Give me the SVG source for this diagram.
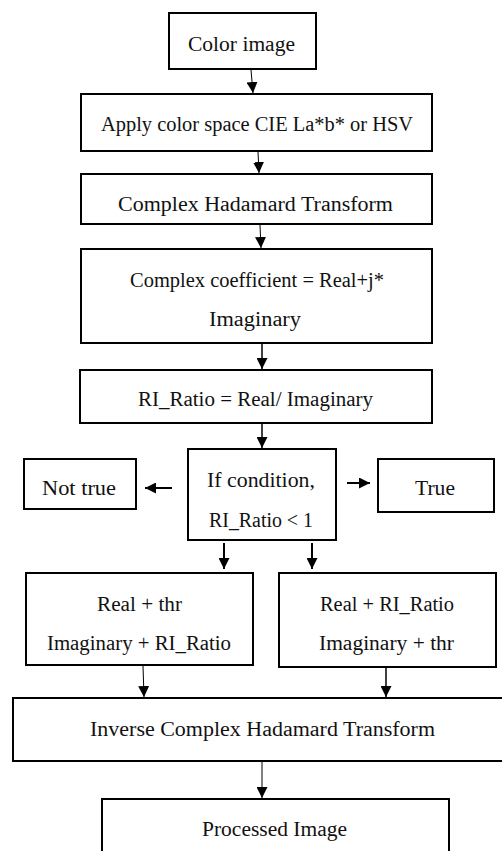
<svg xmlns="http://www.w3.org/2000/svg" width="502" height="851" viewBox="0 0 502 851">
<style>
  .box { fill: #ffffff; stroke: #000000; stroke-width: 2; }
  .lbl { font-family: "Liberation Serif", "Times New Roman", serif; font-size: 20px; fill: #111111; }
  .c { fill: none; stroke: #000000; }
</style>
<defs>
  <marker id="ah" markerUnits="userSpaceOnUse" markerWidth="11" markerHeight="11" refX="11" refY="5.5" orient="auto">
    <path d="M0,0 L11,5.5 L0,11 z" fill="#000000"/>
  </marker>
</defs>
<rect width="502" height="851" fill="#ffffff"/>

<g id="n1">
  <rect class="box" x="169" y="13" width="147" height="56"/>
  <text class="lbl" x="188" y="51" textLength="107" lengthAdjust="spacingAndGlyphs">Color image</text>
</g>
<g id="n2">
  <rect class="box" x="81" y="94" width="351" height="57"/>
  <text class="lbl" x="101" y="131" textLength="312" lengthAdjust="spacingAndGlyphs">Apply color space CIE La*b* or HSV</text>
</g>
<g id="n3">
  <rect class="box" x="81" y="174" width="351" height="50"/>
  <text class="lbl" x="118" y="211" textLength="275" lengthAdjust="spacingAndGlyphs">Complex Hadamard Transform</text>
</g>
<g id="n4">
  <rect class="box" x="81" y="249" width="351" height="94"/>
  <text class="lbl" x="130" y="287" textLength="254" lengthAdjust="spacingAndGlyphs">Complex coefficient = Real+j*</text>
  <text class="lbl" x="209" y="326" textLength="92" lengthAdjust="spacingAndGlyphs">Imaginary</text>
</g>
<g id="n5">
  <rect class="box" x="80" y="370" width="352" height="53"/>
  <text class="lbl" x="138" y="406" textLength="235" lengthAdjust="spacingAndGlyphs">RI_Ratio = Real/ Imaginary</text>
</g>
<g id="n6">
  <rect class="box" x="188" y="449" width="148" height="91"/>
  <text class="lbl" x="207" y="487" textLength="108" lengthAdjust="spacingAndGlyphs">If condition,</text>
  <text class="lbl" x="209" y="527" textLength="104" lengthAdjust="spacingAndGlyphs">RI_Ratio &lt; 1</text>
</g>
<g id="n7">
  <rect class="box" x="24" y="459" width="112" height="50"/>
  <text class="lbl" x="42" y="495" textLength="74" lengthAdjust="spacingAndGlyphs">Not true</text>
</g>
<g id="n8">
  <rect class="box" x="378" y="459" width="116" height="53"/>
  <text class="lbl" x="415" y="495" textLength="40" lengthAdjust="spacingAndGlyphs">True</text>
</g>
<g id="n9">
  <rect class="box" x="26" y="573" width="227" height="92"/>
  <text class="lbl" x="97" y="611" textLength="85" lengthAdjust="spacingAndGlyphs">Real + thr</text>
  <text class="lbl" x="47" y="650" textLength="184" lengthAdjust="spacingAndGlyphs">Imaginary + RI_Ratio</text>
</g>
<g id="n10">
  <rect class="box" x="279" y="573" width="217" height="94"/>
  <text class="lbl" x="320" y="611" textLength="134" lengthAdjust="spacingAndGlyphs">Real + RI_Ratio</text>
  <text class="lbl" x="319" y="650" textLength="135" lengthAdjust="spacingAndGlyphs">Imaginary + thr</text>
</g>
<g id="n11">
  <rect class="box" x="13" y="698" width="495" height="63"/>
  <text class="lbl" x="90" y="736" textLength="345" lengthAdjust="spacingAndGlyphs">Inverse Complex Hadamard Transform</text>
</g>
<g id="n12">
  <rect class="box" x="102" y="799" width="347" height="60"/>
  <text class="lbl" x="202" y="836" textLength="145" lengthAdjust="spacingAndGlyphs">Processed Image</text>
</g>

<g id="connectors">
  <line class="c" stroke-width="1" x1="251" y1="70" x2="253" y2="93" marker-end="url(#ah)"/>
  <line class="c" stroke-width="1" x1="258" y1="152" x2="259" y2="173" marker-end="url(#ah)"/>
  <line class="c" stroke-width="1" x1="260" y1="225" x2="261" y2="248" marker-end="url(#ah)"/>
  <line class="c" stroke-width="1.5" x1="262" y1="344" x2="262" y2="369" marker-end="url(#ah)"/>
  <line class="c" stroke-width="1.5" x1="262" y1="424" x2="262" y2="448" marker-end="url(#ah)"/>
  <line class="c" stroke-width="2" x1="172" y1="488" x2="145" y2="488" marker-end="url(#ah)"/>
  <line class="c" stroke-width="2" x1="347" y1="483" x2="370" y2="483" marker-end="url(#ah)"/>
  <line class="c" stroke-width="2" x1="224" y1="543" x2="224" y2="569" marker-end="url(#ah)"/>
  <line class="c" stroke-width="2" x1="312" y1="543" x2="312" y2="569" marker-end="url(#ah)"/>
  <line class="c" stroke-width="1" x1="143" y1="666" x2="144" y2="697" marker-end="url(#ah)"/>
  <line class="c" stroke-width="1.5" x1="386" y1="668" x2="386" y2="697" marker-end="url(#ah)"/>
  <line class="c" stroke-width="1" x1="262" y1="762" x2="262" y2="798" marker-end="url(#ah)"/>
</g>
</svg>
